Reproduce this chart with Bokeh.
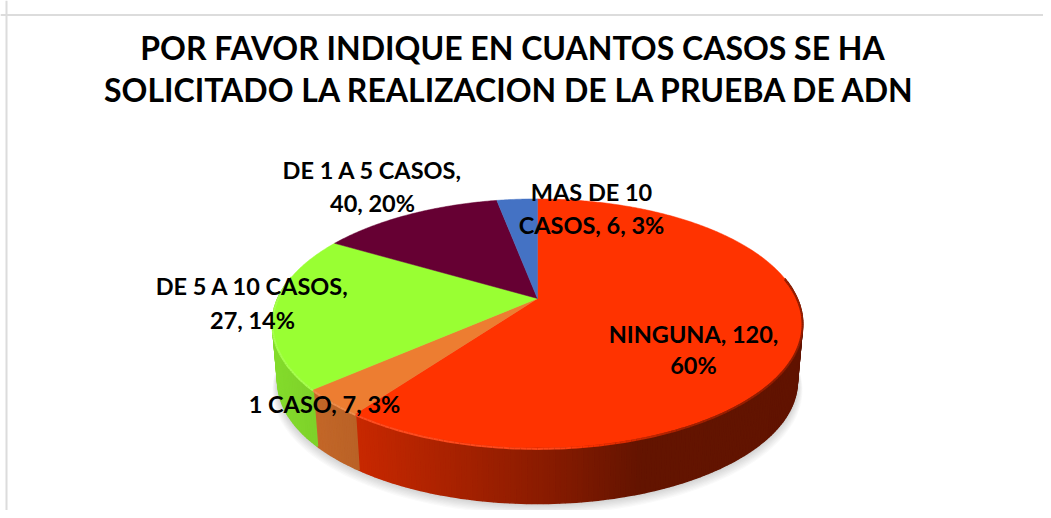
import numpy as np
from bokeh.plotting import figure
from bokeh.models import Range1d, Span, ColumnDataSource
from bokeh.core.properties import value
from bokeh.embed import file_html
from bokeh.resources import INLINE

title_lines = ["POR FAVOR INDIQUE EN CUANTOS CASOS SE HA",
               "SOLICITADO LA REALIZACION DE LA PRUEBA DE ADN"]
slice_names = ["NINGUNA", "1 CASO", "verde", "granate", "MAS DE 10 CASOS"]
slice_values = [120, 7, 40, 27, 6]
slice_colors = ["#FF3300", "#ED7D31", "#99FF33", "#660033", "#4472C4"]
label_lines = ["DE 1 A 5 CASOS,", "40, 20%", "MAS DE 10", "CASOS, 6, 3%",
               "DE 5 A 10 CASOS,", "27, 14%", "1 CASO, 7, 3%", "NINGUNA, 120,", "60%"]
label_x = [372, 372, 591, 591, 252, 252, 324, 693, 693]
label_y = [169, 202, 191, 224, 285, 319, 403, 333, 364]

CX, CY, RX, RY, K = 537.0, 298.0, 259.7, 119.5, 0.2
DEPTH, BOTTOM_SCALE = 58.6, 0.98


def project(t_deg, scale=1.0, drop=0.0):
    t = np.radians(t_deg)
    d = 1 + K * np.cos(t)
    return CX + scale * RX * np.sin(t) * -1 / d, CY + drop - scale * RY * np.cos(t) / d


def rgb(h):
    return np.array([int(h[i:i + 2], 16) for i in (1, 3, 5)], dtype=float)


def hexa(c):
    c = np.clip(np.round(c), 0, 255).astype(int)
    return "#%02x%02x%02x" % tuple(c)


W, H = 1043, 510
p = figure(width=W, height=H, output_backend="svg", toolbar_location=None,
           x_range=Range1d(0, W), y_range=Range1d(H, 0), min_border=0)
p.axis.visible = False
p.grid.visible = False
p.outline_line_color = None

p.add_layout(Span(location=14.5, dimension="width", line_color="#DCDCDC", line_width=2))
p.add_layout(Span(location=6, dimension="height", line_color="#DCDCDC", line_width=2))

fractions = np.array(slice_values, dtype=float) / sum(slice_values) * 360
ends = np.cumsum(fractions)
starts = ends - fractions
sign = -1

# soft shadow under the pie
tt = np.linspace(0, 360, 241)
for i in range(9, 0, -1):
    x, y = project(tt, BOTTOM_SCALE + 0.0022 * i, DEPTH + 0.9 * i)
    p.patch(x, y, fill_color="#555555", fill_alpha=0.028, line_color=None)

# side wall, shaded along x
shade_x = [272, 358, 450, 550, 640, 810]
shade_f = [0.86, 0.78, 0.66, 0.53, 0.39, 0.38]
xs, ys, cols = [], [], []
rim_x, rim_y, rim_c = [], [], []
for s, e, col in zip(starts, ends, slice_colors):
    base = rgb(col)
    for t0 in np.arange(s, e, 1.0):
        t1 = min(t0 + 1.0, e)
        tm = sign * (t0 + t1) / 2
        if np.cos(np.radians(tm)) > 0.18:
            continue
        xa, ya = project(sign * t0)
        xb, yb = project(sign * t1)
        xc, yc = project(sign * t1, BOTTOM_SCALE, DEPTH)
        xd, yd = project(sign * t0, BOTTOM_SCALE, DEPTH)
        xm = (xa + xb) / 2
        f = np.interp(xm, shade_x, shade_f)
        xs.append([xa, xb, xc, xd])
        ys.append([ya, yb, yc, yd])
        cols.append(hexa(base * f))
        light = np.interp(xm, [272, 560, 680, 810], [0.14, 0.10, -0.35, -0.45])
        rc = base + (255 - base) * light if light > 0 else base * (1 + light)
        rim_x.append([xa, xb])
        rim_y.append([ya + 1, yb + 1])
        rim_c.append(hexa(rc))
p.patches("xs", "ys", source=ColumnDataSource(dict(xs=xs, ys=ys, c=cols)),
          fill_color="c", line_color="c", line_width=1.6)

# top surface
for s, e, col in zip(starts, ends, slice_colors):
    a = np.linspace(s, e, max(4, int(e - s) * 2))
    x, y = project(sign * a)
    p.patch(np.r_[CX, x], np.r_[CY, y], fill_color=col, line_color=col, line_width=0.5)

# bevelled rim
p.multi_line("xs", "ys", source=ColumnDataSource(dict(xs=rim_x, ys=rim_y, c=rim_c)),
             line_color="c", line_width=2)

FONT = value("Lato")
p.text(x=[512, 510], y=[47, 89], text=title_lines, text_font=FONT, text_font_style="bold",
       text_font_size="32px", text_color="#000000", text_align="center",
       text_baseline="alphabetic")
p.text(x=label_x, y=label_y, text=label_lines, text_font=FONT, text_font_style="bold",
       text_font_size="23.5px", text_color="#000000", text_align="center",
       text_baseline="alphabetic")

open("out.html", "w").write(file_html(p, INLINE))
